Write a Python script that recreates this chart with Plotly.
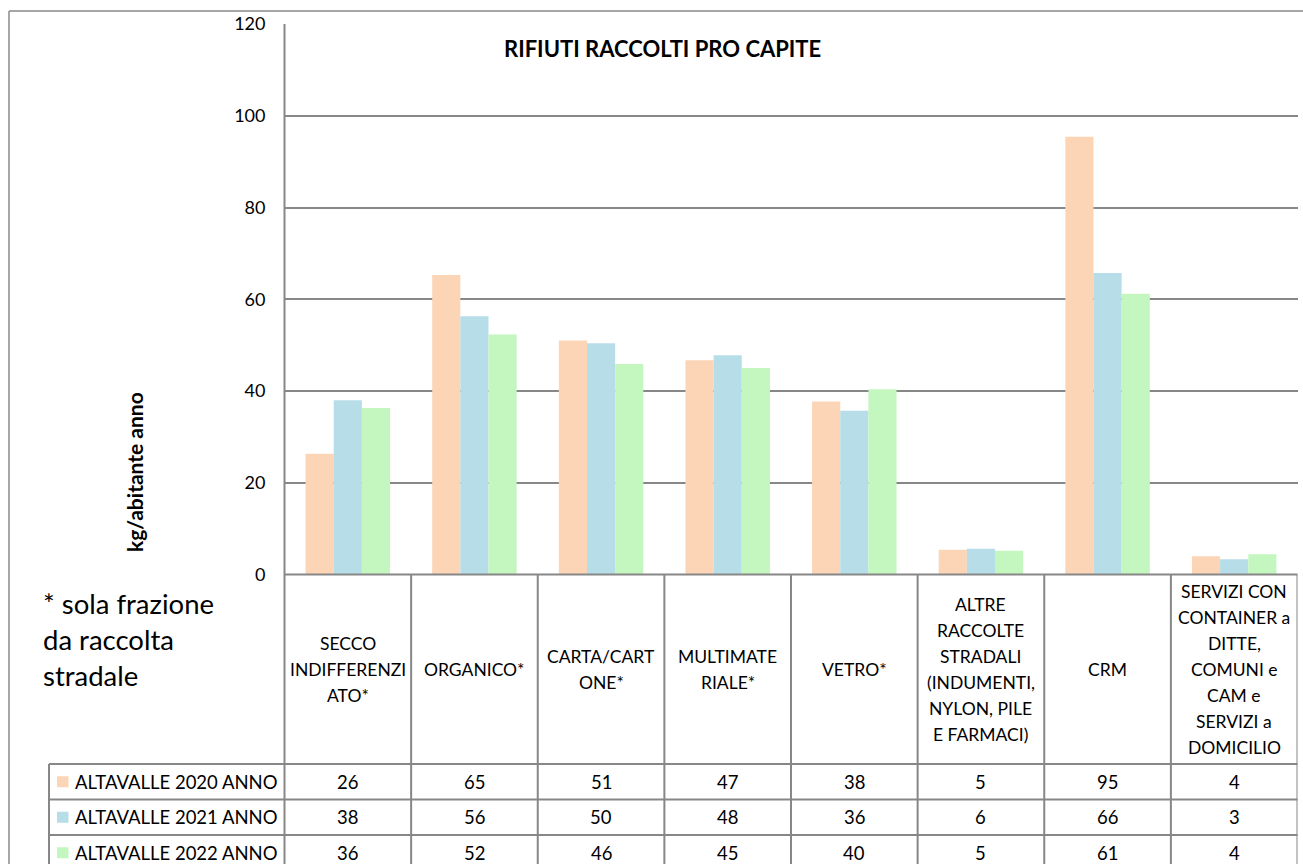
import plotly.graph_objects as go

# ---------------- data ----------------
categories = [
    "SECCO INDIFFERENZIATO*",
    "ORGANICO*",
    "CARTA/CARTONE*",
    "MULTIMATERIALE*",
    "VETRO*",
    "ALTRE RACCOLTE STRADALI (INDUMENTI, NYLON, PILE E FARMACI)",
    "CRM",
    "SERVIZI CON CONTAINER a DITTE, COMUNI e CAM e SERVIZI a DOMICILIO",
]
header_lines = [
    ["SECCO", "INDIFFERENZI", "ATO*"],
    ["ORGANICO*"],
    ["CARTA/CART", "ONE*"],
    ["MULTIMATE", "RIALE*"],
    ["VETRO*"],
    ["ALTRE", "RACCOLTE", "STRADALI", "(INDUMENTI,", "NYLON, PILE", "E FARMACI)"],
    ["CRM"],
    ["SERVIZI CON", "CONTAINER a", "DITTE,", "COMUNI e", "CAM e", "SERVIZI a", "DOMICILIO"],
]
series_names = ["ALTAVALLE 2020 ANNO", "ALTAVALLE 2021 ANNO", "ALTAVALLE 2022 ANNO"]
values_2020 = [26.3, 65.3, 51.0, 46.7, 37.7, 5.4, 95.4, 4.0]
values_2021 = [38.0, 56.3, 50.4, 47.8, 35.7, 5.6, 65.7, 3.3]
values_2022 = [36.3, 52.3, 45.9, 45.0, 40.4, 5.2, 61.2, 4.4]
y_ticks = [0, 20, 40, 60, 80, 100, 120]
chart_title = "RIFIUTI RACCOLTI PRO CAPITE"
y_title = "kg/abitante anno"
footnote_lines = ["* sola frazione", "da raccolta", "stradale"]

# ---------------- style / layout ----------------
W, H = 1303, 864
FONT = "Lato, Carlito, Calibri, sans-serif"
colors = ["#FBD5B5", "#B7DEE8", "#C4F7BF"]
LINE = "#878787"
PLOT_L, PLOT_R = 284.5, 1297.5
PLOT_T, PLOT_B = 24.0, 574.5
ROW_LINES = [764.0, 799.5, 835.0, 870.5]
LEG_L = 49.0


def px(x):
    return x / W


def py(y):
    return 1 - y / H


series_values = [values_2020, values_2021, values_2022]

fig = go.Figure()
for name, vals, col in zip(series_names, series_values, colors):
    fig.add_trace(go.Bar(x=categories, y=vals, name=name,
                         marker=dict(color=col, line=dict(width=0))))

shapes = []
annotations = []

# outer chart border
shapes.append(dict(type="line", xref="paper", yref="paper", x0=px(9), x1=px(1310),
                   y0=py(11), y1=py(11), line=dict(color="#8a8a8a", width=1.5)))
shapes.append(dict(type="line", xref="paper", yref="paper", x0=px(9), x1=px(9),
                   y0=py(11), y1=py(880), line=dict(color="#8a8a8a", width=1.5)))

# left axis line continuing through table
shapes.append(dict(type="line", xref="paper", yref="paper", x0=px(PLOT_L), x1=px(PLOT_L),
                   y0=py(PLOT_T), y1=py(880), line=dict(color=LINE, width=2), layer="above"))
# x axis / table top line
shapes.append(dict(type="line", xref="paper", yref="paper", x0=px(PLOT_L), x1=px(PLOT_R),
                   y0=py(PLOT_B), y1=py(PLOT_B), line=dict(color=LINE, width=2), layer="above"))
# category dividers
for k in range(1, len(categories) + 1):
    shapes.append(dict(type="line", xref="x", yref="paper", x0=k - 0.5, x1=k - 0.5,
                       y0=py(PLOT_B), y1=py(880), line=dict(color=LINE, width=2), layer="above"))
# row lines
for yl in ROW_LINES:
    shapes.append(dict(type="line", xref="paper", yref="paper", x0=px(LEG_L), x1=px(PLOT_R),
                       y0=py(yl), y1=py(yl), line=dict(color=LINE, width=2), layer="above"))
shapes.append(dict(type="line", xref="paper", yref="paper", x0=px(LEG_L), x1=px(LEG_L),
                   y0=py(ROW_LINES[0]), y1=py(880), line=dict(color=LINE, width=2), layer="above"))

# header labels
HEAD_C = (PLOT_B + ROW_LINES[0]) / 2
LS = 26.0
for cat, lines in zip(categories, header_lines):
    n = len(lines)
    for i, t in enumerate(lines):
        yc = HEAD_C + (i - (n - 1) / 2) * LS
        annotations.append(dict(x=cat, xref="x", y=py(yc), yref="paper", text=t,
                                showarrow=False, xanchor="center", yanchor="middle",
                                font=dict(family=FONT, size=17.5, color="#000000")))

# table rows
for r, (name, vals, col) in enumerate(zip(series_names, series_values, colors)):
    yc = (ROW_LINES[r] + ROW_LINES[r + 1]) / 2
    shapes.append(dict(type="rect", xref="paper", yref="paper", x0=px(57), x1=px(68.5),
                       y0=py(yc - 5.5), y1=py(yc + 5.5), fillcolor=col, line=dict(width=0)))
    annotations.append(dict(x=px(73), xref="paper", y=py(yc), yref="paper", text=name,
                            showarrow=False, xanchor="left", yanchor="middle",
                            font=dict(family=FONT, size=18.5, color="#000000")))
    for cat, v in zip(categories, vals):
        annotations.append(dict(x=cat, xref="x", y=py(yc), yref="paper", text=f"{v:.0f}",
                                showarrow=False, xanchor="center", yanchor="middle",
                                font=dict(family=FONT, size=18.5, color="#000000")))

# title
annotations.append(dict(x=px(662.5), xref="paper", y=py(48.5), yref="paper",
                        text="<b>" + chart_title + "</b>", showarrow=False,
                        xanchor="center", yanchor="middle",
                        font=dict(family=FONT, size=22, color="#000000")))
# y title
annotations.append(dict(x=px(134), xref="paper", y=py(472), yref="paper",
                        text="<b>" + y_title + "</b>", showarrow=False, textangle=-90,
                        xanchor="center", yanchor="middle",
                        font=dict(family=FONT, size=21, color="#000000")))
# footnote
annotations.append(dict(x=px(41), xref="paper", y=py(639), yref="paper",
                        text="<br>".join(footnote_lines), showarrow=False, align="left",
                        xanchor="left", yanchor="middle",
                        font=dict(family=FONT, size=27.5, color="#000000")))

fig.update_layout(
    template="none",
    width=W, height=H, autosize=False,
    margin=dict(l=0, r=0, t=0, b=0, pad=0),
    paper_bgcolor="white", plot_bgcolor="white",
    showlegend=False,
    barmode="group", bargap=0.333, bargroupgap=0,
    xaxis=dict(domain=[px(PLOT_L), px(PLOT_R)], range=[-0.5, len(categories) - 0.5],
               showticklabels=False, showgrid=False, zeroline=False, showline=False,
               ticks="", automargin=False),
    yaxis=dict(domain=[py(PLOT_B), py(PLOT_T)], range=[0, 120], tickvals=y_ticks,
               showgrid=True, gridcolor=LINE, gridwidth=1.5, zeroline=False,
               showline=False, ticks="", ticklabelstandoff=18, automargin=False,
               tickfont=dict(family=FONT, size=18, color="#000000")),
    shapes=shapes, annotations=annotations,
)

fig.write_html("out.html",
               config={"displayModeBar": False},
               post_script="document.body.style.margin='0';document.body.style.overflow='hidden';")
